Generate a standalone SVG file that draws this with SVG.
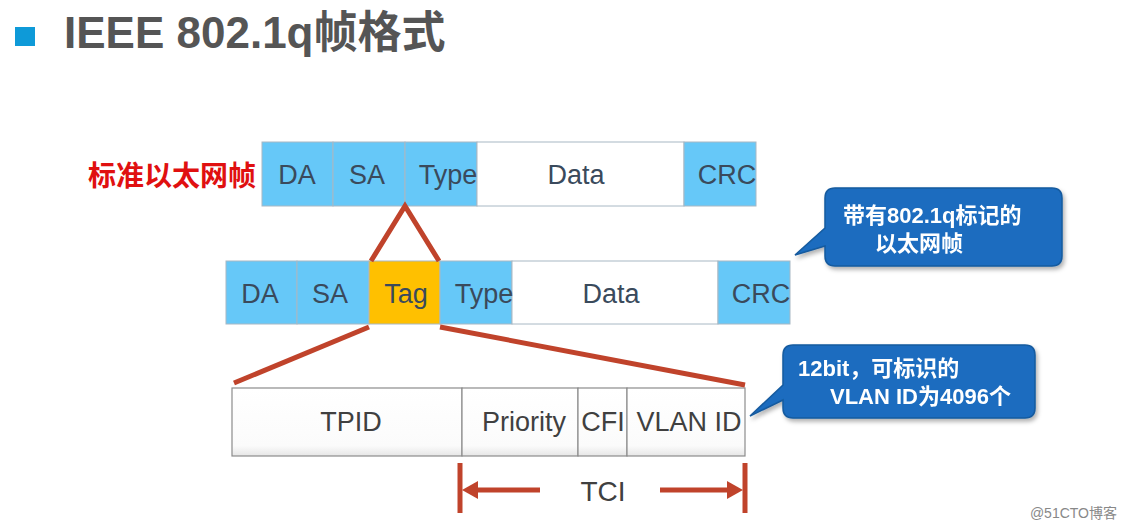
<svg xmlns="http://www.w3.org/2000/svg" width="1127" height="529" viewBox="0 0 1127 529">
<defs>
<style>
.t{font-family:"Liberation Sans",Arial,sans-serif;fill:#3a4a5c;font-size:27px;text-anchor:middle}
.b{fill:#66c8f8;stroke:#a8b8c4;stroke-width:1}
.w{fill:#ffffff;stroke:#a8b8c4;stroke-width:1}
.o{fill:#ffc000;stroke:#a8b8c4;stroke-width:1}
.g{fill:url(#gw);stroke:#8c8c8c;stroke-width:1.2}
.gt{font-family:"Liberation Sans",Arial,sans-serif;fill:#404040;font-size:27px;text-anchor:middle}
.r{stroke:#c0432b;stroke-width:5;fill:none}
.cw{font-family:"Liberation Sans","Noto Sans CJK SC",sans-serif;fill:#ffffff;font-size:22px;font-weight:bold}
.call{fill:#1a6cbf;stroke:#155a9e;stroke-width:1.5}
</style>
<linearGradient id="gw" x1="0" y1="0" x2="0" y2="1">
<stop offset="0" stop-color="#ffffff"/>
<stop offset="0.85" stop-color="#fbfbfb"/>
<stop offset="1" stop-color="#e6e6e6"/>
</linearGradient>
<filter id="sh" x="-10%" y="-10%" width="125%" height="130%">
<feDropShadow dx="2" dy="3" stdDeviation="2" flood-color="#000" flood-opacity="0.3"/>
</filter>
</defs>
<rect width="1127" height="529" fill="#ffffff"/>

<g id="title">
<rect x="15" y="27" width="20" height="19" fill="#0e9ad8"/>
<text x="64" y="48" style="font-family:'Liberation Sans','Noto Sans CJK SC',sans-serif;font-weight:bold;font-size:44px;fill:#555555">IEEE 802.1q帧格式</text>
</g>

<g id="label-std">
<text x="88" y="186" style="font-family:'Noto Sans CJK SC',sans-serif;font-weight:bold;font-size:28px;fill:#e01010">标准以太网帧</text>
</g>

<g id="frame-std">
<rect class="b" x="262" y="142" width="71" height="64"/>
<rect class="b" x="333" y="142" width="72" height="64"/>
<rect class="b" x="405" y="142" width="72" height="64"/>
<rect class="w" x="477" y="142" width="207" height="64"/>
<rect class="b" x="684" y="142" width="72" height="64"/>
<text class="t" x="297" y="184">DA</text>
<text class="t" x="367" y="184">SA</text>
<text class="t" x="448" y="184">Type</text>
<text class="t" x="576" y="184">Data</text>
<text class="t" x="727" y="184">CRC</text>
</g>

<g id="frame-tag">
<rect class="b" x="226" y="261" width="71" height="63"/>
<rect class="b" x="297" y="261" width="72" height="63"/>
<rect class="o" x="369" y="261" width="71" height="63"/>
<rect class="b" x="440" y="261" width="72" height="63"/>
<rect class="w" x="512" y="261" width="206" height="63"/>
<rect class="b" x="718" y="261" width="72" height="63"/>
<text class="t" x="260" y="303">DA</text>
<text class="t" x="330" y="303">SA</text>
<text class="t" x="406" y="303">Tag</text>
<text class="t" x="484" y="303">Type</text>
<text class="t" x="611" y="303">Data</text>
<text class="t" x="761" y="303">CRC</text>
</g>

<g id="frame-tci">
<rect class="g" x="232" y="388" width="230" height="68"/>
<rect class="g" x="462" y="388" width="116" height="68"/>
<rect class="g" x="578" y="388" width="49" height="68"/>
<rect class="g" x="627" y="388" width="118" height="68"/>
<text class="gt" x="351" y="431">TPID</text>
<text class="gt" x="524" y="431">Priority</text>
<text class="gt" x="603" y="431">CFI</text>
<text class="gt" x="689" y="431">VLAN ID</text>
</g>

<g id="tci">
<text x="603" y="501" style="font-family:'Liberation Sans',Arial,sans-serif;font-size:28px;fill:#404040;text-anchor:middle">TCI</text>
</g>

<g id="connectors">
<path class="r" d="M371,261 L405,206 L439,261"/>
<path class="r" d="M369,327 L234,383"/>
<path class="r" d="M440,327 L745,385"/>
<line class="r" x1="460" y1="463" x2="460" y2="513"/>
<line class="r" x1="745" y1="463" x2="745" y2="513"/>
<line class="r" x1="540" y1="490" x2="471" y2="490"/>
<path d="M462,490 L478,481 L478,499 z" fill="#c0432b"/>
<line class="r" x1="660" y1="490" x2="733" y2="490"/>
<path d="M743,490 L727,481 L727,499 z" fill="#c0432b"/>
</g>

<g id="callout1" filter="url(#sh)">
<path class="call" d="M835,188 L1052,188 Q1062,188 1062,198 L1062,256 Q1062,266 1052,266 L835,266 Q825,266 825,256 L825,246 L795,255 L825,228 L825,198 Q825,188 835,188 z"/>
<text class="cw" x="843" y="223">带有802.1q标记的</text>
<text class="cw" x="875" y="251">以太网帧</text>
</g>

<g id="callout2" filter="url(#sh)">
<path class="call" d="M793,345 L1025,345 Q1035,345 1035,355 L1035,408 Q1035,418 1025,418 L793,418 Q783,418 783,408 L783,400 L750,416 L783,385 L783,355 Q783,345 793,345 z"/>
<text class="cw" x="798" y="376">12bit，可标识的</text>
<text class="cw" x="830" y="404">VLAN ID为4096个</text>
</g>

<g id="watermark">
<text x="1117" y="518" style="font-family:'Liberation Sans','Noto Sans CJK SC',sans-serif;font-size:14px;fill:#888888;text-anchor:end">@51CTO博客</text>
</g>
</svg>
